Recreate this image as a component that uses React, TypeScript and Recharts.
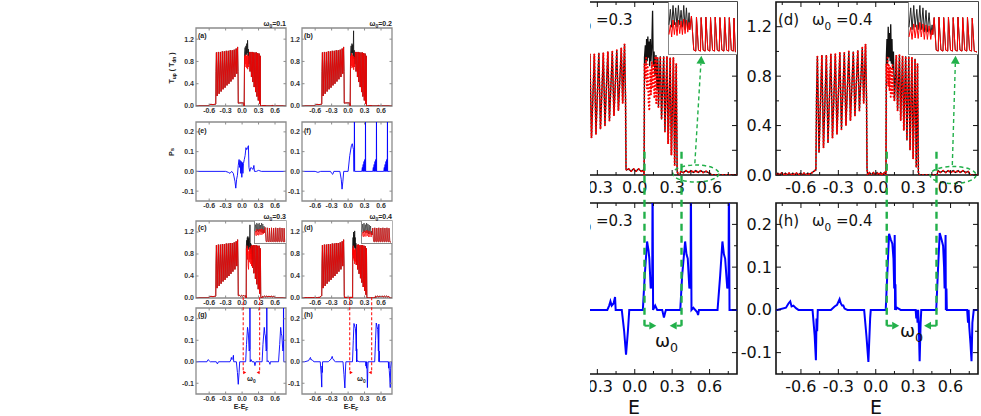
import React from 'react';
import { LineChart, Line, XAxis, YAxis, ReferenceArea, ReferenceLine, ReferenceDot } from 'recharts';

type Pt = [number, number];

// ---- T(E) pieces ----
const tZeroL: Pt[] = [[-0.85, 0], [-0.62, 0], [-0.6, 0.02], [-0.57, 0.03], [-0.53, 0.025], [-0.5, 0.03], [-0.485, 0.03]];
const tZeroD: Pt[] = [
  [-0.85, 0], [-0.8, 0], [-0.785, 0.015], [-0.77, 0], [-0.755, 0.015], [-0.74, 0], [-0.725, 0.015], [-0.71, 0],
  [-0.695, 0.015], [-0.68, 0], [-0.665, 0.015], [-0.65, 0], [-0.635, 0.015], [-0.62, 0], [-0.605, 0.015], [-0.59, 0],
  [-0.575, 0.015], [-0.56, 0], [-0.545, 0.015], [-0.53, 0.005], [-0.51, 0.02], [-0.495, 0.03], [-0.485, 0.04],
];
const tBandLeft: Pt[] = [
  [-0.48, 0.04], [-0.475, 0.62], [-0.468, 0.96], [-0.455, 0.18], [-0.432, 0.97], [-0.419, 0.22], [-0.396, 0.97],
  [-0.383, 0.26], [-0.36, 0.98], [-0.347, 0.3], [-0.324, 0.98], [-0.311, 0.33], [-0.288, 0.99], [-0.275, 0.37],
  [-0.252, 0.99], [-0.239, 0.4], [-0.216, 1.0], [-0.203, 0.44], [-0.18, 1.0], [-0.167, 0.48], [-0.144, 1.01],
  [-0.131, 0.52], [-0.108, 1.03], [-0.097, 0.58], [-0.082, 1.06], [-0.074, 0.62], [-0.07, 0.05],
];
const tGapAB: Pt[] = [[-0.065, 0.05], [-0.055, 0.06], [-0.04, 0.05], [-0.02, 0.06], [0.0, 0.05], [0.02, 0.06], [0.03, 0.05], [0.038, 0.0]];
const tGapC: Pt[] = [[-0.065, 0.04], [-0.05, 0.05], [-0.03, 0.03], [-0.01, 0.05], [0.01, 0.03], [0.03, 0.05], [0.05, 0.03], [0.07, 0.04], [0.075, 0.0]];
const tGapD: Pt[] = [[-0.065, 0], [-0.05, 0.02], [-0.035, 0], [-0.02, 0.02], [-0.005, 0], [0.01, 0.02], [0.025, 0], [0.04, 0.02], [0.055, 0], [0.07, 0.02], [0.082, 0]];

const tMidBlackA: Pt[] = [[0.045, 0.95], [0.055, 1.05], [0.06, 0.9], [0.07, 1.08], [0.078, 0.92], [0.085, 1.12], [0.092, 0.95], [0.1, 1.18], [0.108, 0.9], [0.115, 1.02], [0.122, 0.75]];
const tMidRedA: Pt[] = [[0.045, 0.9], [0.055, 0.75], [0.062, 0.92], [0.07, 0.7], [0.078, 0.9], [0.086, 0.68], [0.094, 0.92], [0.102, 0.66], [0.11, 0.9], [0.116, 0.7], [0.122, 0.75]];
const tMidBlackB: Pt[] = [[0.045, 0.95], [0.055, 1.08], [0.062, 0.92], [0.07, 1.12], [0.078, 0.95], [0.085, 1.1], [0.092, 0.9], [0.1, 1.35], [0.104, 0.85], [0.112, 1.0], [0.122, 0.75]];
const tMidRedB: Pt[] = [[0.045, 0.9], [0.055, 0.72], [0.062, 0.95], [0.07, 0.68], [0.078, 0.92], [0.086, 0.7], [0.094, 0.9], [0.102, 0.65], [0.11, 0.88], [0.116, 0.7], [0.122, 0.75]];
const tRightAB: Pt[] = [
  [0.135, 0.97], [0.145, 0.62], [0.16, 0.97], [0.17, 0.52], [0.185, 0.97], [0.195, 0.43], [0.21, 0.96], [0.22, 0.34],
  [0.235, 0.96], [0.245, 0.25], [0.26, 0.96], [0.27, 0.17], [0.285, 0.95], [0.295, 0.1], [0.31, 0.94], [0.32, 0.04],
  [0.33, 0.9], [0.335, 0.0],
];
const tTailAB: Pt[] = [[0.35, 0], [0.4, 0.01], [0.45, 0], [0.53, 0], [0.55, 0.01], [0.57, 0], [0.85, 0]];

const tMidBlackC: Pt[] = [
  [0.078, 0.95], [0.085, 1.05], [0.09, 0.9], [0.095, 1.1], [0.1, 0.92], [0.105, 1.12], [0.11, 0.95], [0.115, 1.08],
  [0.12, 0.88], [0.125, 1.1], [0.13, 0.92], [0.137, 1.05], [0.143, 1.33], [0.148, 0.88], [0.155, 1.0], [0.162, 0.8],
  [0.17, 0.97], [0.178, 0.7], [0.185, 0.95], [0.19, 0.55],
];
const tMidRedC: Pt[] = [
  [0.078, 0.9], [0.086, 0.78], [0.092, 0.95], [0.098, 0.7], [0.104, 0.9], [0.11, 0.6], [0.117, 0.52], [0.124, 0.85],
  [0.13, 0.65], [0.137, 0.92], [0.143, 0.7], [0.15, 0.9], [0.157, 0.62], [0.165, 0.95], [0.172, 0.58], [0.18, 0.96], [0.19, 0.55],
];
const tRightC: Pt[] = [
  [0.205, 0.96], [0.215, 0.45], [0.232, 0.96], [0.242, 0.35], [0.258, 0.96], [0.268, 0.25], [0.284, 0.95], [0.294, 0.16],
  [0.31, 0.95], [0.32, 0.08], [0.333, 0.9], [0.34, 0.03], [0.35, 0.0],
];
const tTailC: Pt[] = [
  [0.36, 0], [0.37, 0.03], [0.39, 0.02], [0.41, 0.035], [0.43, 0.02], [0.45, 0.035], [0.47, 0.02], [0.49, 0.035],
  [0.51, 0.02], [0.53, 0.035], [0.55, 0.02], [0.57, 0.03], [0.6, 0.015], [0.62, 0], [0.85, 0],
];

const tMidBlackD: Pt[] = [
  [0.085, 0.95], [0.09, 1.1], [0.095, 0.9], [0.1, 1.2], [0.105, 0.95], [0.11, 1.15], [0.115, 0.92], [0.12, 1.22],
  [0.125, 0.9], [0.13, 1.1], [0.135, 0.85], [0.142, 1.0], [0.15, 0.6],
];
const tMidRedD: Pt[] = [
  [0.085, 0.9], [0.09, 0.78], [0.095, 0.95], [0.1, 0.72], [0.105, 0.9], [0.11, 0.68], [0.115, 0.88], [0.12, 0.62],
  [0.125, 0.86], [0.13, 0.66], [0.135, 0.9], [0.142, 0.64], [0.15, 0.6],
];
const tRightD: Pt[] = [
  [0.165, 0.97], [0.175, 0.52], [0.19, 0.97], [0.2, 0.44], [0.215, 0.96], [0.225, 0.36], [0.24, 0.96], [0.25, 0.28],
  [0.265, 0.96], [0.275, 0.2], [0.29, 0.95], [0.3, 0.13], [0.315, 0.94], [0.325, 0.06], [0.335, 0.9], [0.342, 0.02], [0.35, 0],
];
const tTailD: Pt[] = [
  [0.49, 0], [0.5, 0.035], [0.52, 0.02], [0.54, 0.035], [0.56, 0.02], [0.58, 0.035], [0.6, 0.02], [0.62, 0.035],
  [0.64, 0.02], [0.66, 0.035], [0.68, 0.02], [0.7, 0.035], [0.72, 0.02], [0.74, 0.03], [0.76, 0], [0.85, 0],
];

// ---- spin polarization Ps(E) ----
const psE: Pt[] = [
  [-0.85, 0], [-0.3, 0], [-0.25, -0.005], [-0.22, -0.01], [-0.19, 0], [-0.16, -0.01], [-0.13, -0.05], [-0.115, -0.085],
  [-0.1, -0.04], [-0.085, -0.02], [-0.07, 0.03], [-0.055, 0.06], [-0.045, 0.02], [-0.035, 0.055], [-0.025, -0.01],
  [-0.015, 0.05], [-0.005, -0.03], [0.005, 0.045], [0.015, -0.01], [0.025, 0.04], [0.04, 0.06], [0.055, 0.08],
  [0.07, 0.12], [0.085, 0.11], [0.1, 0.12], [0.115, 0.13], [0.125, 0.02], [0.14, 0], [0.16, 0.02], [0.18, 0.015],
  [0.2, 0.01], [0.215, 0.03], [0.225, 0], [0.26, 0], [0.3, 0.005], [0.35, 0], [0.85, 0],
];
const psF: Pt[] = [
  [-0.85, 0], [-0.6, 0], [-0.55, -0.005], [-0.5, 0], [-0.32, 0], [-0.3, -0.01], [-0.28, -0.015], [-0.26, 0], [-0.15, 0],
  [-0.125, -0.04], [-0.11, -0.09], [-0.095, -0.05], [-0.08, 0], [0.0, 0], [0.03, 0.08], [0.06, 0.13], [0.076, 0.14],
  [0.09, 0.12], [0.1, 0.11], [0.105, 0], [0.112, 0.005], [0.115, 0.3], [0.12, 0], [0.25, 0], [0.26, 0.02], [0.265, 0],
  [0.275, 0.035], [0.28, 0], [0.29, 0.05], [0.295, 0], [0.305, 0.06], [0.31, 0], [0.315, 0.07], [0.317, 0.3], [0.32, 0],
  [0.45, 0], [0.46, 0.02], [0.465, 0], [0.475, 0.035], [0.48, 0], [0.49, 0.05], [0.495, 0], [0.505, 0.06], [0.51, 0],
  [0.515, 0.07], [0.517, 0.3], [0.52, 0], [0.65, 0], [0.66, 0.02], [0.665, 0], [0.675, 0.035], [0.68, 0], [0.69, 0.05],
  [0.695, 0], [0.705, 0.06], [0.71, 0], [0.715, 0.07], [0.717, 0.3], [0.72, 0], [0.85, 0],
];
const psG: Pt[] = [
  [-0.85, 0], [-0.64, 0], [-0.62, 0.01], [-0.6, 0.005], [-0.58, 0], [-0.47, 0], [-0.45, -0.01], [-0.43, 0], [-0.22, 0],
  [-0.205, 0.01], [-0.195, 0.02], [-0.185, 0.01], [-0.17, 0.015], [-0.158, 0.03], [-0.153, 0], [-0.104, 0],
  [-0.085, -0.05], [-0.07, -0.105], [-0.055, -0.05], [-0.044, 0], [0.065, 0], [0.08, 0.08], [0.099, 0.16], [0.11, 0.14],
  [0.117, 0.12], [0.128, 0.05], [0.14, 0.06], [0.143, 0.32], [0.147, 0], [0.164, 0.01], [0.18, 0], [0.22, 0],
  [0.234, -0.018], [0.245, -0.005], [0.25, 0], [0.365, 0], [0.38, 0.08], [0.404, 0.16], [0.415, 0.13], [0.425, 0.12],
  [0.438, 0.05], [0.448, 0.06], [0.45, 0.32], [0.455, 0], [0.47, 0.005], [0.5, -0.005], [0.508, -0.012], [0.515, 0],
  [0.664, 0], [0.685, 0.08], [0.703, 0.16], [0.715, 0.13], [0.725, 0.12], [0.742, 0.05], [0.752, 0.06], [0.755, 0.32],
  [0.76, 0], [0.85, 0],
];
const psH: Pt[] = [
  [-0.85, 0], [-0.79, 0], [-0.72, 0.005], [-0.7, 0.015], [-0.686, 0.02], [-0.675, 0.008], [-0.66, 0.01], [-0.64, 0.004],
  [-0.62, 0], [-0.507, 0], [-0.49, -0.06], [-0.48, -0.118], [-0.475, -0.02], [-0.47, -0.05], [-0.465, 0], [-0.36, 0],
  [-0.33, 0.008], [-0.31, 0.012], [-0.29, 0.025], [-0.28, 0.015], [-0.27, 0.01], [-0.26, 0.01], [-0.25, 0.003],
  [-0.227, 0], [-0.093, 0], [-0.075, -0.06], [-0.059, -0.122], [-0.045, -0.02], [-0.04, 0], [0.08, 0], [0.095, 0.1],
  [0.107, 0.178], [0.12, 0.165], [0.133, 0.155], [0.142, 0.12], [0.148, 0.05], [0.152, 0.175], [0.155, 0], [0.158, 0.06],
  [0.161, 0], [0.17, 0.005], [0.2, 0], [0.32, 0], [0.325, -0.02], [0.33, 0], [0.335, -0.03], [0.34, 0], [0.345, -0.035],
  [0.352, -0.12], [0.36, -0.03], [0.365, 0], [0.485, 0], [0.5, 0.1], [0.513, 0.18], [0.527, 0.165], [0.54, 0.15],
  [0.548, 0.1], [0.552, 0.05], [0.56, 0.175], [0.562, 0], [0.567, 0.05], [0.57, 0], [0.733, 0], [0.74, -0.03],
  [0.745, 0], [0.75, -0.04], [0.76, -0.08], [0.768, -0.12], [0.775, -0.03], [0.786, 0], [0.85, 0],
];

// ---- insets (zoom of the weak tail, arbitrary units) ----
const insetCBlackL: Pt[] = [[0, 0.6], [0.02, 0.92], [0.04, 0.55], [0.06, 1.0], [0.08, 0.6], [0.1, 0.95], [0.12, 0.55], [0.14, 1.0], [0.16, 0.6], [0.18, 0.9], [0.2, 0.55], [0.22, 1.0], [0.24, 0.5], [0.26, 0.95], [0.28, 0.5], [0.3, 0.85], [0.31, 0.5]];
const insetCRedL: Pt[] = [[0, 0.4], [0.02, 0.6], [0.04, 0.35], [0.06, 0.7], [0.08, 0.4], [0.1, 0.65], [0.12, 0.38], [0.14, 0.7], [0.16, 0.42], [0.18, 0.68], [0.2, 0.4], [0.22, 0.72], [0.24, 0.42], [0.26, 0.7], [0.28, 0.45], [0.3, 0.65], [0.31, 0.5]];
const insetCRight: Pt[] = [
  [0.335, 0.78], [0.37, 0.08], [0.4, 0.06], [0.41, 0.76], [0.44, 0.08], [0.47, 0.06], [0.48, 0.75], [0.51, 0.08],
  [0.54, 0.06], [0.55, 0.76], [0.58, 0.08], [0.61, 0.06], [0.62, 0.75], [0.65, 0.08], [0.68, 0.06], [0.69, 0.76],
  [0.72, 0.08], [0.75, 0.06], [0.76, 0.75], [0.79, 0.08], [0.82, 0.06], [0.83, 0.76], [0.86, 0.08], [0.89, 0.06],
  [0.9, 0.75], [0.93, 0.08], [0.96, 0.06], [0.97, 0.74], [0.99, 0.05], [1, 0.04],
];
const insetDBlackL: Pt[] = [[0, 0.55], [0.025, 0.95], [0.045, 0.5], [0.07, 1.0], [0.09, 0.55], [0.115, 0.92], [0.135, 0.5], [0.16, 1.0], [0.18, 0.5], [0.205, 0.95], [0.225, 0.45], [0.25, 0.9], [0.27, 0.45], [0.295, 0.85], [0.32, 0.4], [0.34, 0.6], [0.35, 0.4]];
const insetDRedL: Pt[] = [[0, 0.35], [0.025, 0.55], [0.045, 0.3], [0.07, 0.62], [0.09, 0.33], [0.115, 0.6], [0.135, 0.32], [0.16, 0.65], [0.18, 0.35], [0.205, 0.62], [0.225, 0.3], [0.25, 0.6], [0.27, 0.3], [0.295, 0.58], [0.32, 0.3], [0.34, 0.5], [0.35, 0.4]];
const insetDRight: Pt[] = [
  [0.37, 0.75], [0.4, 0.08], [0.43, 0.06], [0.44, 0.76], [0.47, 0.08], [0.5, 0.06], [0.51, 0.75], [0.54, 0.08],
  [0.57, 0.06], [0.58, 0.76], [0.61, 0.08], [0.64, 0.06], [0.65, 0.75], [0.68, 0.08], [0.71, 0.06], [0.72, 0.76],
  [0.75, 0.08], [0.78, 0.06], [0.79, 0.75], [0.82, 0.08], [0.85, 0.06], [0.86, 0.76], [0.89, 0.08], [0.92, 0.06],
  [0.93, 0.74], [0.96, 0.06], [1, 0.04],
];

// ---- ticks ----
const xTicksSmall = [-0.6, -0.3, 0, 0.3, 0.6];
const xTicksBig = [-0.75, -0.6, -0.45, -0.3, -0.15, 0, 0.15, 0.3, 0.45, 0.6, 0.75];
const xLabelTicks = [-0.6, -0.3, 0, 0.3, 0.6];
const xLabelTicksCrop = [-0.3, 0, 0.3, 0.6]; // -0.6 falls outside the enlarged crop
const tTicksSmall = [0, 0.4, 0.8, 1.2];
const tTicksBig = [0, 0.2, 0.4, 0.6, 0.8, 1.0, 1.2];
const tLabelTicks = [0, 0.4, 0.8, 1.2];
const pTicksSmall = [-0.1, 0, 0.1, 0.2];
const pTicksBig = [-0.1, -0.05, 0, 0.05, 0.1, 0.15, 0.2];
const pLabelTicks = [-0.1, 0, 0.1, 0.2];
const noLabels: number[] = [];

const xDomSmall: [number, number] = [-0.84, 0.8];
const xDomBig: [number, number] = [-0.8, 0.82];
const tDom: [number, number] = [0, 1.4];
const pDom: [number, number] = [-0.15, 0.25];

const RED = '#ff0000';
const BLUE = '#0000ff';
const GREEN = '#22b04a';
const RX = 590; // left edge of the enlarged crop

const seriesT = (...parts: Pt[][]): Pt[] => parts.flat();
const toRows = (pts: Pt[]) => pts.map(([e, v]) => ({ e, v }));
const has = (list: number[], v: number) => list.some(t => Math.abs(t - v) < 1e-9);
const fmt = (v: number) => (Math.abs(v) < 1e-9 ? '0.0' : v.toFixed(1));

type Series = { pts: Pt[]; color: string; width: number; dash?: string };

type PanelProps = {
  x: number; y: number; w: number; h: number; big?: boolean;
  xDomain: [number, number]; yDomain: [number, number];
  xTicks: number[]; xLabels: number[]; yTicks: number[]; yLabels: number[];
  series: Series[]; children?: React.ReactNode;
};

function Panel({ x, y, w, h, big, xDomain, yDomain, xTicks, xLabels, yTicks, yLabels, series, children }: PanelProps) {
  const padL = big ? 46 : 22;
  const padB = big ? 26 : 11;
  const padT = 3;
  const padR = 3;
  const frame = big ? '#111' : '#8c8c8c';
  const font = big
    ? { fontFamily: 'DejaVu Sans', fontSize: 16, fill: '#111' }
    : { fontFamily: 'Liberation Sans', fontSize: 7, fontWeight: 700, fill: '#333' };
  const mx = big ? 5 : 1;
  const my = big ? 4 : 2;
  const len = big ? 5 : 2.5;

  // ticks point inward, on all four sides of the box
  const xTick = (p: any) => {
    const v = p.payload.value;
    const major = has(xLabelTicks, v);
    const l = major ? len : len * 0.6;
    const y0 = p.y - mx;
    return (
      <g>
        <line x1={p.x} x2={p.x} y1={y0} y2={y0 - l} stroke={frame} strokeWidth={1} />
        <line x1={p.x} x2={p.x} y1={y0 - h} y2={y0 - h + l} stroke={frame} strokeWidth={1} />
        {has(xLabels, v) && <text x={p.x} y={p.y} dy="0.8em" textAnchor="middle" {...font}>{fmt(v)}</text>}
      </g>
    );
  };
  const yTick = (p: any) => {
    const v = p.payload.value;
    const l = has(tLabelTicks, v) || has(pLabelTicks, v) ? len : len * 0.6;
    const x0 = p.x + my;
    return (
      <g>
        <line x1={x0} x2={x0 + l} y1={p.y} y2={p.y} stroke={frame} strokeWidth={1} />
        <line x1={x0 + w} x2={x0 + w - l} y1={p.y} y2={p.y} stroke={frame} strokeWidth={1} />
        {has(yLabels, v) && <text x={p.x} y={p.y} dy="0.35em" textAnchor="end" {...font}>{fmt(v)}</text>}
      </g>
    );
  };

  return (
    <div style={{ position: 'absolute', left: x - padL, top: y - padT }}>
      <LineChart width={padL + w + padR} height={padT + h + padB} margin={{ top: padT, right: padR, bottom: 0, left: 0 }}>
        <XAxis type="number" dataKey="e" domain={xDomain} allowDataOverflow ticks={xTicks} interval={0}
          tickSize={0} tickMargin={mx} axisLine={false} tickLine={false} height={padB} tick={xTick} />
        <YAxis type="number" domain={yDomain} allowDataOverflow ticks={yTicks} interval={0}
          tickSize={0} tickMargin={my} axisLine={false} tickLine={false} width={padL} tick={yTick} />
        {series.map((s, i) => (
          <Line key={i} data={toRows(s.pts)} dataKey="v" type="linear" dot={false} activeDot={false}
            isAnimationActive={false} stroke={s.color} strokeWidth={s.width} strokeDasharray={s.dash}
            strokeLinecap={s.dash ? 'round' : 'butt'} />
        ))}
        <ReferenceArea x1={xDomain[0]} x2={xDomain[1]} y1={yDomain[0]} y2={yDomain[1]} fill="none"
          stroke={frame} strokeWidth={big ? 1.6 : 1.3} ifOverflow="visible" />
        {children}
      </LineChart>
    </div>
  );
}

function Inset({ x, y, w, h, black, red, lw }: { x: number; y: number; w: number; h: number; black: Pt[]; red: Pt[]; lw: number }) {
  return (
    <div style={{ position: 'absolute', left: x, top: y, width: w, height: h, background: '#fff',
      borderLeft: '1px solid #888', borderBottom: '1px solid #888', boxSizing: 'border-box' }}>
      <LineChart width={w - 1} height={h - 1} margin={{ top: 1, right: 1, bottom: 0, left: 0 }}>
        <XAxis type="number" dataKey="e" domain={[0, 1]} hide />
        <YAxis type="number" domain={[0, 1.05]} allowDataOverflow hide />
        <Line data={toRows(black)} dataKey="v" dot={false} activeDot={false} isAnimationActive={false} stroke="#222" strokeWidth={lw} />
        <Line data={toRows(red)} dataKey="v" dot={false} activeDot={false} isAnimationActive={false} stroke={RED} strokeWidth={lw} />
      </LineChart>
    </div>
  );
}

function arrowShape(color: string, w: number, head: number, dashed?: boolean) {
  return (p: any) => {
    const { x1, y1, x2, y2 } = p;
    const a = Math.atan2(y2 - y1, x2 - x1);
    const bx = x2 - head * Math.cos(a);
    const by = y2 - head * Math.sin(a);
    const hw = head * 0.55;
    const pts = `${x2},${y2} ${bx - hw * Math.sin(a)},${by + hw * Math.cos(a)} ${bx + hw * Math.sin(a)},${by - hw * Math.cos(a)}`;
    return (
      <g>
        <line x1={x1} y1={y1} x2={bx} y2={by} stroke={color} strokeWidth={w} strokeDasharray={dashed ? '4 3' : undefined} />
        <polygon points={pts} fill={color} />
      </g>
    );
  };
}

const ellipseShape = (p: any) => (
  <ellipse cx={p.cx} cy={p.cy} rx={23} ry={8.5} fill="none" stroke={GREEN} strokeWidth={1.5} strokeDasharray="4 3" />
);

// vertical guide lines at E0 and E0+w0, with the two inward arrows at the bottom
function guides(e0: number, e1: number, top: number, bottom: number, arrowLen: number, color: string, big: boolean) {
  const dash = big ? '7 5' : '3 2';
  const sw = big ? 2.4 : 1;
  return (
    <>
      <ReferenceLine segment={[{ x: e0, y: top }, { x: e0, y: bottom }]} stroke={color} strokeWidth={sw} strokeDasharray={dash} ifOverflow="visible" />
      <ReferenceLine segment={[{ x: e1, y: top }, { x: e1, y: bottom }]} stroke={color} strokeWidth={sw} strokeDasharray={dash} ifOverflow="visible" />
      <ReferenceLine segment={[{ x: e0, y: bottom }, { x: e0 + arrowLen, y: bottom }]} ifOverflow="visible"
        shape={arrowShape(color, big ? 2 : 0.9, big ? 7 : 3)} />
      <ReferenceLine segment={[{ x: e1, y: bottom }, { x: e1 - arrowLen, y: bottom }]} ifOverflow="visible"
        shape={arrowShape(color, big ? 2 : 0.9, big ? 7 : 3)} />
    </>
  );
}

const blackA = seriesT(tZeroL, tBandLeft, tGapAB, tMidBlackA, tRightAB, tTailAB);
const redA = seriesT(tZeroL, tBandLeft, tGapAB, tMidRedA, tRightAB, tTailAB);
const blackB = seriesT(tZeroL, tBandLeft, tGapAB, tMidBlackB, tRightAB, tTailAB);
const redB = seriesT(tZeroL, tBandLeft, tGapAB, tMidRedB, tRightAB, tTailAB);
const blackC = seriesT(tZeroL, tBandLeft, tGapC, tMidBlackC, tRightC, tTailC);
const redC = seriesT(tZeroL, tBandLeft, tGapC, tMidRedC, tRightC, tTailC);
const blackD = seriesT(tZeroD, tBandLeft, tGapD, tMidBlackD, tRightD, tTailD);
const redD = seriesT(tZeroD, tBandLeft, tGapD, tMidRedD, tRightD, tTailD);
const insetCBlack = seriesT(insetCBlackL, insetCRight);
const insetCRed = seriesT(insetCRedL, insetCRight);
const insetDBlack = seriesT(insetDBlackL, insetDRight);
const insetDRed = seriesT(insetDRedL, insetDRight);

const smallT = (b: Pt[], r: Pt[]): Series[] => [
  { pts: b, color: '#111', width: 0.8 },
  { pts: r, color: RED, width: 0.8 },
];
const bigT = (b: Pt[], r: Pt[]): Series[] => [
  { pts: b, color: '#111', width: 1.3 },
  { pts: r, color: RED, width: 2, dash: '0.1 3.4' },
];

const SX1 = 196, SX2 = 302, SW = 90;
const BX1 = 535 - RX, BX2 = 776 - RX, BW = 202;

const lbl = { fontFamily: 'Liberation Sans', fontSize: 7, fontWeight: 700, fill: '#222' };
const big = { fontFamily: 'DejaVu Sans', fontSize: 15, fill: '#111' };
const sub = (s: string, size: number) => (
  <tspan dy={size * 0.3} fontSize={size * 0.7}>{s}</tspan>
);

export default function App() {
  return (
    <div style={{ position: 'absolute', left: 0, top: 0, width: 981, height: 416, background: '#fff', overflow: 'hidden' }}>
      <style>{'.recharts-surface{overflow:visible}'}</style>

      {/* ----- left: the full small figure ----- */}
      <Panel x={SX1} y={28} w={SW} h={78} xDomain={xDomSmall} yDomain={tDom} xTicks={xTicksSmall} xLabels={xLabelTicks} yTicks={tTicksSmall} yLabels={tLabelTicks} series={smallT(blackA, redA)} />
      <Panel x={SX2} y={28} w={SW} h={78} xDomain={xDomSmall} yDomain={tDom} xTicks={xTicksSmall} xLabels={xLabelTicks} yTicks={tTicksSmall} yLabels={tLabelTicks} series={smallT(blackB, redB)} />
      <Panel x={SX1} y={122} w={SW} h={79} xDomain={xDomSmall} yDomain={pDom} xTicks={xTicksSmall} xLabels={xLabelTicks} yTicks={pTicksSmall} yLabels={pLabelTicks} series={[{ pts: psE, color: BLUE, width: 0.9 }]} />
      <Panel x={SX2} y={122} w={SW} h={79} xDomain={xDomSmall} yDomain={pDom} xTicks={xTicksSmall} xLabels={xLabelTicks} yTicks={pTicksSmall} yLabels={pLabelTicks} series={[{ pts: psF, color: BLUE, width: 0.9 }]} />
      <Panel x={SX1} y={221} w={SW} h={77} xDomain={xDomSmall} yDomain={tDom} xTicks={xTicksSmall} xLabels={xLabelTicks} yTicks={tTicksSmall} yLabels={tLabelTicks} series={smallT(blackC, redC)} />
      <Panel x={SX2} y={221} w={SW} h={77} xDomain={xDomSmall} yDomain={tDom} xTicks={xTicksSmall} xLabels={xLabelTicks} yTicks={tTicksSmall} yLabels={tLabelTicks} series={smallT(blackD, redD)} />
      <Inset x={254} y={221} w={32} h={23} black={insetCBlack} red={insetCRed} lw={0.6} />
      <Inset x={361} y={221} w={31} h={23} black={insetDBlack} red={insetDRed} lw={0.6} />
      <Panel x={SX1} y={308} w={SW} h={86} xDomain={xDomSmall} yDomain={pDom} xTicks={xTicksSmall} xLabels={xLabelTicks} yTicks={pTicksSmall} yLabels={pLabelTicks} series={[{ pts: psG, color: BLUE, width: 0.9 }]}>
        {guides(0.02, 0.32, 0.3, -0.05, 0.055, RED, false)}
      </Panel>
      <Panel x={SX2} y={308} w={SW} h={86} xDomain={xDomSmall} yDomain={pDom} xTicks={xTicksSmall} xLabels={xLabelTicks} yTicks={pTicksSmall} yLabels={pLabelTicks} series={[{ pts: psH, color: BLUE, width: 0.9 }]}>
        {guides(0.03, 0.43, 0.3, -0.05, 0.055, RED, false)}
      </Panel>

      <svg width={981} height={416} style={{ position: 'absolute', left: 0, top: 0, pointerEvents: 'none' }}>
        <text x={286} y={26} textAnchor="end" {...lbl}>ω{sub('0', 7)}<tspan dy={-2.1}>=0.1</tspan></text>
        <text x={392} y={26} textAnchor="end" {...lbl}>ω{sub('0', 7)}<tspan dy={-2.1}>=0.2</tspan></text>
        <text x={286} y={219} textAnchor="end" {...lbl}>ω{sub('0', 7)}<tspan dy={-2.1}>=0.3</tspan></text>
        <text x={392} y={219} textAnchor="end" {...lbl}>ω{sub('0', 7)}<tspan dy={-2.1}>=0.4</tspan></text>
        <text x={198} y={38} {...lbl}>(a)</text>
        <text x={304} y={38} {...lbl}>(b)</text>
        <text x={198} y={133} {...lbl}>(e)</text>
        <text x={304} y={133} {...lbl}>(f)</text>
        <text x={198} y={230} {...lbl}>(c)</text>
        <text x={304} y={230} {...lbl}>(d)</text>
        <text x={198} y={317} {...lbl}>(g)</text>
        <text x={304} y={317} {...lbl}>(h)</text>
        <text transform="translate(174,68) rotate(-90)" textAnchor="middle" {...lbl}>
          T{sub('up', 7)}<tspan dy={-2.1}> ( T</tspan>{sub('dn', 7)}<tspan dy={-2.1}> )</tspan>
        </text>
        <text transform="translate(174,152) rotate(-90)" textAnchor="middle" {...lbl}>P<tspan fontSize={6}>s</tspan></text>
        <text x={247} y={381} {...lbl}>ω{sub('0', 7)}</text>
        <text x={357} y={381} {...lbl}>ω{sub('0', 7)}</text>
        <text x={241} y={409} textAnchor="middle" {...lbl}>E-E{sub('F', 7)}</text>
        <text x={351} y={409} textAnchor="middle" {...lbl}>E-E{sub('F', 7)}</text>
      </svg>

      {/* ----- right: enlarged crop of (c), (d), (g), (h) ----- */}
      <div style={{ position: 'absolute', left: RX, top: 0, width: 981 - RX, height: 416, overflow: 'hidden' }}>
        <Panel big x={BX1} y={2} w={BW} h={173} xDomain={xDomBig} yDomain={tDom} xTicks={xTicksBig} xLabels={xLabelTicksCrop} yTicks={tTicksBig} yLabels={noLabels} series={bigT(blackC, redC)}>
          <ReferenceDot x={0.49} y={0.012} shape={ellipseShape} />
          <ReferenceLine segment={[{ x: 0.482, y: 0.095 }, { x: 0.534, y: 0.965 }]} ifOverflow="visible" shape={arrowShape(GREEN, 1.4, 8, true)} />
        </Panel>
        <Panel big x={BX2} y={2} w={BW} h={173} xDomain={xDomBig} yDomain={tDom} xTicks={xTicksBig} xLabels={xLabelTicks} yTicks={tTicksBig} yLabels={tLabelTicks} series={bigT(blackD, redD)}>
          <ReferenceDot x={0.62} y={0.0} shape={ellipseShape} />
          <ReferenceLine segment={[{ x: 0.614, y: 0.081 }, { x: 0.64, y: 0.965 }]} ifOverflow="visible" shape={arrowShape(GREEN, 1.4, 8, true)} />
        </Panel>
        <Inset x={668 - RX} y={2} w={69} h={53} black={insetCBlack} red={insetCRed} lw={1} />
        <Inset x={908 - RX} y={2} w={70} h={53} black={insetDBlack} red={insetDRed} lw={1} />
        <Panel big x={BX1} y={203} w={BW} h={171} xDomain={xDomBig} yDomain={pDom} xTicks={xTicksBig} xLabels={xLabelTicksCrop} yTicks={pTicksBig} yLabels={noLabels} series={[{ pts: psG, color: BLUE, width: 2 }]}>
          {guides(0.078, 0.375, 0.37, -0.037, 0.095, GREEN, true)}
        </Panel>
        <Panel big x={BX2} y={203} w={BW} h={171} xDomain={xDomBig} yDomain={pDom} xTicks={xTicksBig} xLabels={xLabelTicks} yTicks={pTicksBig} yLabels={pLabelTicks} series={[{ pts: psH, color: BLUE, width: 2 }]}>
          {guides(0.088, 0.487, 0.37, -0.037, 0.1, GREEN, true)}
        </Panel>

        <svg width={981 - RX} height={416} style={{ position: 'absolute', left: 0, top: 0, pointerEvents: 'none' }}>
          <text x={572 - RX} y={25} {...big}>ω{sub('0', 15)}<tspan dy={-4.5}> =0.3</tspan></text>
          <text x={778 - RX} y={25} {...big}>(d)</text>
          <text x={812 - RX} y={25} {...big}>ω{sub('0', 15)}<tspan dy={-4.5}> =0.4</tspan></text>
          <text x={572 - RX} y={226} {...big}>ω{sub('0', 15)}<tspan dy={-4.5}> =0.3</tspan></text>
          <text x={778 - RX} y={226} {...big}>(h)</text>
          <text x={812 - RX} y={226} {...big}>ω{sub('0', 15)}<tspan dy={-4.5}> =0.4</tspan></text>
          <text x={655 - RX} y={347} {...big} fontSize={18}>ω{sub('0', 18)}</text>
          <text x={900 - RX} y={337} {...big} fontSize={18}>ω{sub('0', 18)}</text>
          <text x={634 - RX} y={414} textAnchor="middle" {...big} fontSize={19}>E</text>
          <text x={876 - RX} y={414} textAnchor="middle" {...big} fontSize={19}>E</text>
        </svg>
      </div>
    </div>
  );
}
